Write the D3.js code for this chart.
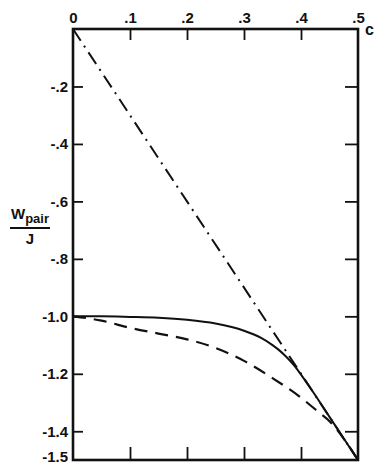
<!DOCTYPE html>
<html>
<head>
<meta charset="utf-8">
<script src="https://cdn.jsdelivr.net/npm/d3@7"></script>
<style>
  body { margin: 0; background: #fff; }
  text { font-family: "Liberation Sans", Arial, sans-serif; font-weight: bold; fill: #111; }
</style>
</head>
<body>
<div id="chart"></div>
<script>
// c values and pair energies W/J
const cLine = [0, 0.5];
const wLine = [0, -1.5];

const cSolid = [0, 0.05, 0.1, 0.15, 0.2, 0.25, 0.3, 0.33, 0.35, 0.36, 0.37, 0.38, 0.39, 0.4, 0.42, 0.45, 0.5];
const wSolid = [-1.0, -1.0, -1.002, -1.005, -1.012, -1.025, -1.05, -1.075, -1.1, -1.115, -1.133, -1.153, -1.176, -1.203, -1.26, -1.35, -1.5];

const cDashed = [0, 0.05, 0.1, 0.15, 0.2, 0.25, 0.3, 0.35, 0.4, 0.433, 0.45, 0.48, 0.5];
const wDashed = [-1.0, -1.015, -1.04, -1.06, -1.08, -1.11, -1.155, -1.215, -1.283, -1.337, -1.365, -1.44, -1.5];

const xTicks = [0, 0.1, 0.2, 0.3, 0.4, 0.5];
const xTickLabels = ['0', '.1', '.2', '.3', '.4', '.5'];
const yTicks = [-0.2, -0.4, -0.6, -0.8, -1.0, -1.2, -1.4, -1.5];
const yTickLabels = ['-.2', '-.4', '-.6', '-.8', '-1.0', '-1.2', '-1.4', '-1.5'];

const width = 375;
const height = 464;
const margin = {top: 29, right: 17, bottom: 4, left: 73};

const svg = d3.select('#chart').append('svg')
  .attr('width', width)
  .attr('height', height);

const x = d3.scaleLinear().domain([0, 0.5]).range([margin.left, width - margin.right]);
const y = d3.scaleLinear().domain([0, -1.5]).range([margin.top, height - margin.bottom]);

const line = d3.line()
  .x(d => x(d[0]))
  .y(d => y(d[1]))
  .curve(d3.curveMonotoneX);

/* curves */
svg.append('path')
  .attr('d', line(d3.zip(cLine, wLine)))
  .attr('fill', 'none')
  .attr('stroke', '#111')
  .attr('stroke-width', 2)
  .attr('stroke-dasharray', '14,6,2,6');

svg.append('path')
  .attr('d', line(d3.zip(cSolid, wSolid)))
  .attr('fill', 'none')
  .attr('stroke', '#111')
  .attr('stroke-width', 2);

svg.append('path')
  .attr('d', line(d3.zip(cDashed, wDashed)))
  .attr('fill', 'none')
  .attr('stroke', '#111')
  .attr('stroke-width', 2.2)
  .attr('stroke-dasharray', '13,8');

/* axes */
const inner = xTicks.slice(1, -1);
const innerY = yTicks.slice(0, -1);

const topAxis = svg.append('g')
  .attr('transform', `translate(0, ${y(0)})`)
  .call(d3.axisTop(x).tickValues(xTicks).tickSize(0).tickPadding(6)
    .tickFormat((d, i) => xTickLabels[i]));
topAxis.selectAll('.tick')
  .filter(d => inner.includes(d))
  .append('line').attr('y2', 11);

svg.append('g')
  .attr('transform', `translate(0, ${y(-1.5)})`)
  .call(d3.axisBottom(x).tickValues(inner).tickSize(-13).tickFormat(''));

const leftAxis = svg.append('g')
  .attr('transform', `translate(${x(0)}, 0)`)
  .call(d3.axisLeft(y).tickValues(yTicks).tickSize(0).tickPadding(5)
    .tickFormat((d, i) => yTickLabels[i]));
leftAxis.selectAll('.tick')
  .filter(d => innerY.includes(d))
  .append('line').attr('x2', 10);
// lowest label sits on the frame corner, nudge it up to stay in view
leftAxis.selectAll('.tick')
  .filter(d => d === -1.5)
  .select('text').attr('dy', '0.1em');

svg.append('g')
  .attr('transform', `translate(${x(0.5)}, 0)`)
  .call(d3.axisRight(y).tickValues(innerY).tickSize(-13).tickFormat(''));

svg.selectAll('.domain').remove();
svg.selectAll('.tick line').attr('stroke', '#111').attr('stroke-width', 1.8);
svg.selectAll('.tick text')
  .style('font-size', '15px')
  .style('font-family', '"Liberation Sans", Arial, sans-serif')
  .style('font-weight', 'bold')
  .attr('fill', '#111');

svg.append('rect')
  .attr('x', x(0))
  .attr('y', y(0))
  .attr('width', x(0.5) - x(0))
  .attr('height', y(-1.5) - y(0))
  .attr('fill', 'none')
  .attr('stroke', '#111')
  .attr('stroke-width', 2.6);

/* axis titles */
svg.append('text')
  .attr('x', x(0.5) + 7)
  .attr('y', y(0) + 6)
  .style('font-size', '16px')
  .text('c');

const ylab = svg.append('text')
  .attr('x', 11)
  .attr('y', 219)
  .style('font-size', '15px');
ylab.append('tspan').text('W');
ylab.append('tspan').attr('dy', 4).style('font-size', '13px').text('pair');

svg.append('line')
  .attr('x1', 10).attr('x2', 50)
  .attr('y1', 228).attr('y2', 228)
  .attr('stroke', '#111')
  .attr('stroke-width', 1.8);

svg.append('text')
  .attr('x', 30)
  .attr('y', 244)
  .attr('text-anchor', 'middle')
  .style('font-size', '15px')
  .text('J');
</script>
</body>
</html>
